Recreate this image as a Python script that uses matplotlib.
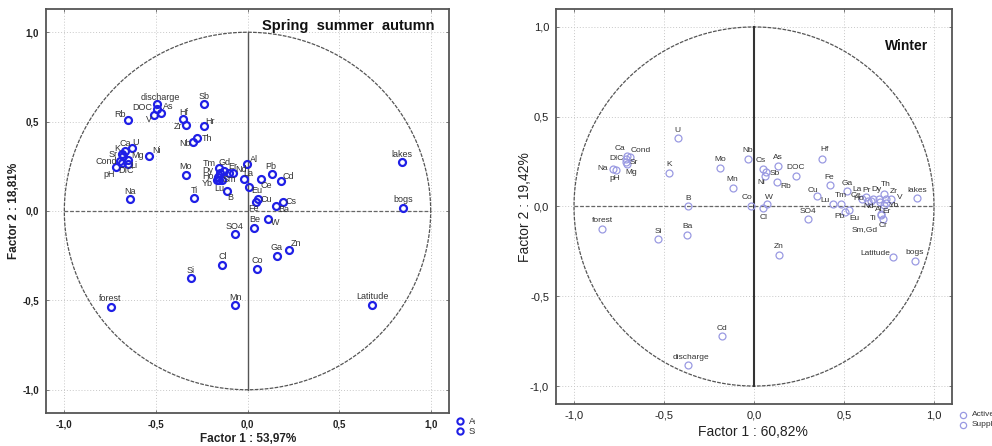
import matplotlib
matplotlib.use("Agg")
import matplotlib.pyplot as plt
import numpy as np
from matplotlib.lines import Line2D
from matplotlib.transforms import Bbox

plt.rcParams['font.family'] = ['Liberation Sans', 'DejaVu Sans']

# ---------------- DATA ----------------
# Panel 1: Spring summer autumn
names_s = ['discharge', 'DOC', 'As', 'V', 'Rb', 'Hf', 'Zr', 'Sb', 'Hr', 'Th',
           'Nb', 'U', 'Ca', 'K', 'Sr', 'Mg', 'Cond', 'Li', 'DIC', 'pH',
           'Ni', 'Na', 'Mo', 'Ti', 'Tm', 'Gd', 'Dy', 'Er', 'Nd', 'Ho',
           'Yb', 'Lu', 'Sm', 'La', 'B', 'Al', 'Pb', 'Ce', 'Cd', 'Eu',
           'Cu', 'Fe', 'Cs', 'Ba', 'W', 'Be', 'SO4', 'Ga', 'Zn', 'Co',
           'Cl', 'Si', 'Mn', 'forest', 'Latitude', 'lakes', 'bogs']
f1_s = [-0.496, -0.495, -0.470, -0.508, -0.650, -0.354, -0.338, -0.239, -0.236, -0.278,
        -0.296, -0.628, -0.668, -0.687, -0.679, -0.654, -0.696, -0.654, -0.683, -0.720,
        -0.537, -0.639, -0.336, -0.292, -0.157, -0.126, -0.151, -0.099, -0.077, -0.163,
        -0.168, -0.153, -0.141, -0.020, -0.111, -0.002, 0.135, 0.071, 0.181, 0.007,
        0.060, 0.049, 0.192, 0.157, 0.111, 0.038, -0.069, 0.159, 0.225, 0.053,
        -0.137, -0.308, -0.066, -0.747, 0.680, 0.844, 0.849]
f2_s = [0.598, 0.568, 0.549, 0.538, 0.507, 0.512, 0.482, 0.598, 0.477, 0.408,
        0.387, 0.350, 0.335, 0.318, 0.307, 0.283, 0.279, 0.261, 0.266, 0.246,
        0.307, 0.065, 0.202, 0.072, 0.240, 0.225, 0.210, 0.210, 0.210, 0.192,
        0.173, 0.173, 0.173, 0.177, 0.113, 0.261, 0.209, 0.179, 0.169, 0.136,
        0.065, 0.048, 0.052, 0.028, -0.043, -0.094, -0.130, -0.251, -0.218, -0.324,
        -0.302, -0.376, -0.526, -0.536, -0.524, 0.274, 0.017]

# Panel 2: Winter
names_w = ['U', 'Ca', 'Cond', 'DIC', 'Sr', 'Mg', 'Na', 'pH', 'K', 'Mo',
           'Nb', 'Mn', 'B', 'Co', 'forest', 'Si', 'Ba', 'Cd', 'discharge', 'Cs',
           'Sb', 'Ni', 'As', 'Rb', 'DOC', 'Hf', 'Fe', 'Cu', 'Lu', 'Tm',
           'Ga', 'La', 'Ce', 'Pr', 'Ho', 'Nd', 'Dy', 'Th', 'Zr', 'V',
           'Yb', 'Al', 'Er', 'Ti', 'Cr', 'Sm,Gd', 'Pb', 'Eu', 'lakes', 'SO4',
           'W', 'Cl', 'Zn', 'Latitude', 'bogs']
f1_w = [-0.425, -0.704, -0.691, -0.709, -0.708, -0.711, -0.784, -0.765, -0.472, -0.189,
        -0.035, -0.119, -0.364, -0.017, -0.843, -0.531, -0.373, -0.180, -0.369, 0.048,
        0.067, 0.061, 0.132, 0.128, 0.234, 0.379, 0.420, 0.351, 0.438, 0.481,
        0.516, 0.624, 0.601, 0.661, 0.634, 0.652, 0.695, 0.722, 0.735, 0.763,
        0.732, 0.699, 0.722, 0.708, 0.717, 0.708, 0.507, 0.526, 0.906, 0.299,
        0.071, 0.052, 0.139, 0.773, 0.893]
f2_w = [0.381, 0.283, 0.276, 0.265, 0.237, 0.246, 0.209, 0.202, 0.187, 0.215,
        0.265, 0.104, 0.002, 0.002, -0.124, -0.182, -0.161, -0.722, -0.883, 0.211,
        0.193, 0.169, 0.228, 0.137, 0.172, 0.265, 0.117, 0.061, 0.015, 0.015,
        0.085, 0.054, 0.043, 0.039, 0.033, 0.028, 0.043, 0.072, 0.043, 0.043,
        0.020, 0.026, 0.011, -0.044, -0.069, -0.050, -0.031, -0.022, 0.046, -0.072,
        0.015, -0.011, -0.268, -0.280, -0.302]

tick_vals = [-1.0, -0.5, 0.0, 0.5, 1.0]
tick_labels = ['-1,0', '-0,5', '0,0', '0,5', '1,0']
legend_labels = ['Active', 'Suppl.']

# ---------------- label offsets (pixels) ----------------
off_s = {'discharge': (4, 7), 'DOC': (-15, 2), 'As': (7, 6), 'V': (-5, -5), 'Rb': (-8, 6),
         'Hf': (1, 7), 'Zr': (-8, -2), 'Hr': (6, 4), 'Th': (10, 0), 'Nb': (-8, -2),
         'U': (3, 6), 'K': (-4, 6), 'Sr': (-10, 2), 'Mg': (10, 5), 'Cond': (-14, 0),
         'Li': (6, -1), 'pH': (-6, -7), 'DIC': (4, -7), 'Ni': (7, 6), 'Tm': (-9, 5),
         'Dy': (-12, 3), 'Er': (3, 7), 'Nd': (8, 4), 'Ho': (-10, 0), 'Yb': (-9, -3),
         'Lu': (0, -8), 'Sm': (8, 1), 'La': (4, 6), 'B': (3, -7), 'Al': (7, 5),
         'Pb': (-1, 7), 'Cd': (8, 4), 'Ce': (6, -6), 'Eu': (8, -4), 'Cu': (8, 0),
         'Cs': (8, 0), 'Fe': (-3, -6), 'Ba': (7, -4), 'W': (7, -4), 'Zn': (7, 6)}
off_w = {'Cs': (-2, 8), 'Sb': (9, -2), 'Ni': (-4, -6), 'Rb': (9, -5), 'Hf': (2, 9),
         'Cu': (-4, 5), 'Lu': (-8, 3), 'La': (-9, 7), 'Ce': (-6, 3), 'Pr': (-6, 9),
         'Ho': (-9, 2), 'Nd': (-3, -5), 'Dy': (-3, 9), 'Th': (2, 9), 'Zr': (7, 7),
         'V': (8, 1), 'Yb': (8, -3), 'Al': (-1, -8), 'Er': (3, -7), 'Ti': (-8, -4),
         'Cr': (0, -7), 'Sm,Gd': (-17, -14), 'Pb': (-6, -4), 'Eu': (6, -8), 'W': (2, 6),
         'Cl': (0, -9), 'Latitude': (-18, 3), 'discharge': (3, 8), 'Co': (-4, 9),
         'Ca': (-7, 7), 'Cond': (11, 6), 'DIC': (-10, 0), 'Sr': (7, 1), 'Mg': (5, -10),
         'Na': (-10, 0), 'pH': (-2, -8), 'Ba': (1, 9)}

W, H = 992, 446
fig = plt.figure(figsize=(W / 100, H / 100), dpi=100)
fig.patch.set_facecolor('white')

ax1 = fig.add_axes([46 / W, 1 - 413 / H, 403 / W, 404 / H])
ax2 = fig.add_axes([556 / W, 1 - 404 / H, 396 / W, 395 / H])


def base(ax, ylim, tick_bold, tick_fs, vline_lw, vline_color, vline_ls):
    ax.set_xlim(-1.1, 1.1)
    ax.set_ylim(-ylim, ylim)
    ax.set_xticks(tick_vals)
    ax.set_yticks(tick_vals)
    ax.set_xticklabels(tick_labels, fontsize=tick_fs,
                       fontweight='bold' if tick_bold else 'normal', color='#222222')
    ax.set_yticklabels(tick_labels, fontsize=tick_fs,
                       fontweight='bold' if tick_bold else 'normal', color='#222222')
    ax.tick_params(direction='in', length=2.5, width=0.6, top=True, right=True,
                   color='#666666', pad=5)
    ax.grid(True, linestyle=(0, (1, 2)), color='#c8c8c8', linewidth=0.7)
    for s in ax.spines.values():
        s.set_color('#555555')
        s.set_linewidth(1.3)
    t = np.linspace(0, 2 * np.pi, 400)
    ax.plot(np.cos(t), np.sin(t), color='#555555', lw=0.9, ls=(0, (3, 1)), zorder=2)
    ax.plot([-1, 1], [0, 0], color='#666666', lw=0.9, ls=(0, (3, 1.5)), zorder=2)
    ax.plot([0, 0], [-1, 1], color=vline_color, lw=vline_lw, ls=vline_ls, zorder=2)


base(ax1, 1.13, True, 7, 1.0, '#555555', '-')
base(ax2, 1.1, False, 8, 1.5, '#333333', '-')

c1 = '#1f1fe6'
c2 = '#9a9ae2'

ax1.plot(f1_s, f2_s, 'o', ms=5, mfc='none', mec=c1, mew=1.6, zorder=4)
for n, x, y in zip(names_s, f1_s, f2_s):
    dx, dy = off_s.get(n, (0, 8))
    ax1.annotate(n, (x, y), xytext=(dx, dy), textcoords='offset pixels',
                 ha='center', va='center', fontsize=6.5, color='#333333', zorder=5)

ax2.plot(f1_w, f2_w, 'o', ms=5, mfc='none', mec=c2, mew=0.9, zorder=4)
for n, x, y in zip(names_w, f1_w, f2_w):
    dx, dy = off_w.get(n, (0, 8))
    ax2.annotate(n, (x, y), xytext=(dx, dy), textcoords='offset pixels',
                 ha='center', va='center', fontsize=6, color='#333333', zorder=5)

# titles inside
ax1.text(0.965, 0.975, 'Spring  summer  autumn', transform=ax1.transAxes,
         ha='right', va='top', fontsize=10.5, fontweight='bold', color='#111111')
ax2.text(0.94, 0.925, 'Winter', transform=ax2.transAxes,
         ha='right', va='top', fontsize=10, fontweight='bold', color='#111111')

# axis labels
fig.text(248 / W, 1 - 439 / H, 'Factor 1 : 53,97%', ha='center', va='center',
         fontsize=8.5, fontweight='bold', color='#222222')
fig.text(14 / W, 1 - 211 / H, 'Factor 2 : 18,81%', ha='center', va='center',
         rotation=90, fontsize=8.5, fontweight='bold', color='#222222')
fig.text(753 / W, 1 - 432 / H, 'Factor 1 : 60,82%', ha='center', va='center',
         fontsize=10, color='#222222')
fig.text(525 / W, 1 - 207 / H, 'Factor 2 : 19,42%', ha='center', va='center',
         rotation=90, fontsize=10, color='#222222')

# legends (cropped like the reference)
clip_left = Bbox.from_extents(0, 0, 475, H)
for i, lab in enumerate(legend_labels):
    yy = 1 - (421 + 10 * i) / H
    fig.add_artist(Line2D([460 / W], [yy], transform=fig.transFigure, marker='o',
                          ms=4.5, mfc='none', mec=c1, mew=1.5, ls='none'))
    t = fig.text(469 / W, yy, lab, ha='left', va='center', fontsize=6.5,
                 color='#333333', clip_on=True)
    t.set_clip_box(clip_left)
for i, lab in enumerate(legend_labels):
    yy = 1 - (415 + 10 * i) / H
    fig.add_artist(Line2D([963 / W], [yy], transform=fig.transFigure, marker='o',
                          ms=4.5, mfc='none', mec=c2, mew=0.9, ls='none'))
    fig.text(972 / W, yy, lab, ha='left', va='center', fontsize=6,
             color='#333333')

fig.savefig('out.png', dpi=100, facecolor='white')
